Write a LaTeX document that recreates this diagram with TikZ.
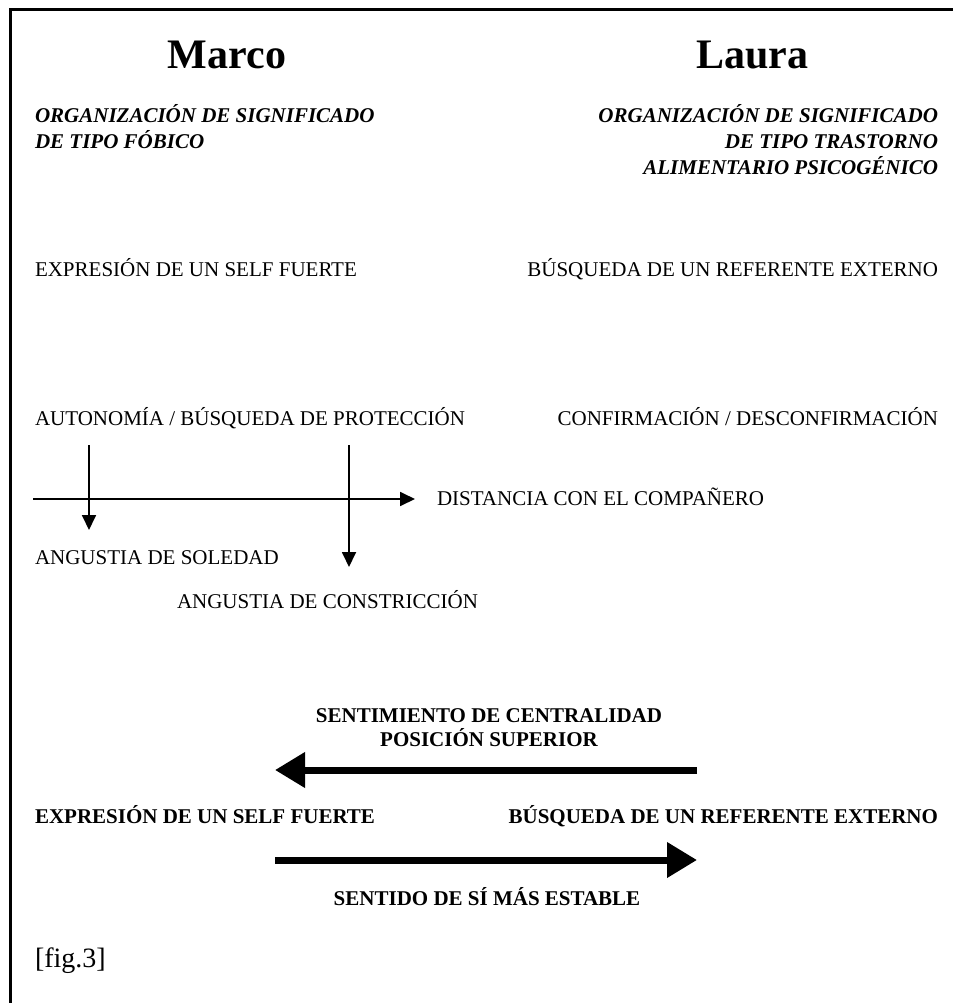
\documentclass[tikz,border=0pt]{standalone}
\usepackage{fontspec}
\setmainfont{Liberation Serif}
\usetikzlibrary{arrows.meta}
\tikzset{
  every node/.style={inner sep=0pt, outer sep=0pt},
  title/.style={font=\bfseries\fontsize{42}{46}\selectfont},
  orgtext/.style={font=\bfseries\itshape\fontsize{21}{26}\selectfont},
  plain/.style={font=\fontsize{21}{26}\selectfont},
  boldtext/.style={font=\bfseries\fontsize{21}{26}\selectfont},
  figlabel/.style={font=\fontsize{28}{32}\selectfont},
  thinarrow/.style={line width=1.8pt, -{Triangle[length=15pt,width=14pt]}},
  thickarrow/.style={line width=7pt, -{Triangle[length=30pt,width=34pt]}},
  frame/.style={line width=3pt}
}
\begin{document}
\begin{tikzpicture}[x=1pt,y=-1pt]
\useasboundingbox (0,0) rectangle (953,1003);
% frame
\coordinate (fr1) at (10,1003);
\coordinate (fr2) at (10,10);
\coordinate (fr3) at (953,10);
\draw[frame] (fr1) -- (fr2) -- (fr3);
% titles
\node[title, anchor=base] (marco) at (227,69) {Marco};
\node[title, anchor=base] (laura) at (752,69) {Laura};
% organisations
\node[orgtext, anchor=base west] (orgL1) at (35,123) {ORGANIZACIÓN DE SIGNIFICADO};
\node[orgtext, anchor=base west] (orgL2) at (35,149) {DE TIPO FÓBICO};
\node[orgtext, anchor=base east] (orgR1) at (938,123) {ORGANIZACIÓN DE SIGNIFICADO};
\node[orgtext, anchor=base east] (orgR2) at (938,149) {DE TIPO TRASTORNO};
\node[orgtext, anchor=base east] (orgR3) at (938,175) {ALIMENTARIO PSICOGÉNICO};
% row 1
\node[plain, anchor=base west] (exprL) at (35,276) {EXPRESIÓN DE UN SELF FUERTE};
\node[plain, anchor=base east] (busqR) at (938,276) {BÚSQUEDA DE UN REFERENTE EXTERNO};
% row 2
\node[plain, anchor=base west] (auto) at (35,425) {AUTONOMÍA / BÚSQUEDA DE PROTECCIÓN};
\node[plain, anchor=base east] (conf) at (938,425) {CONFIRMACIÓN / DESCONFIRMACIÓN};
% axis
\coordinate (axS) at (33,499);
\coordinate (axE) at (415,499);
\node[plain, anchor=base west] (dist) at (437,505) {DISTANCIA CON EL COMPAÑERO};
\draw[thinarrow] (axS) -- (axE);
\coordinate (v1S) at (89,445);
\coordinate (v1E) at (89,530);
\coordinate (v2S) at (349,445);
\coordinate (v2E) at (349,567);
\draw[thinarrow] (v1S) -- (v1E);
\draw[thinarrow] (v2S) -- (v2E);
\node[plain, anchor=base west] (sol) at (35,564) {ANGUSTIA DE SOLEDAD};
\node[plain, anchor=base west] (cons) at (177,608) {ANGUSTIA DE CONSTRICCIÓN};
% bottom
\node[boldtext, anchor=base] (sent1) at (489,722) {SENTIMIENTO DE CENTRALIDAD};
\node[boldtext, anchor=base] (sent2) at (489,746) {POSICIÓN SUPERIOR};
\coordinate (tA) at (697,770);
\coordinate (tB) at (275,770);
\draw[thickarrow] (tA) -- (tB);
\node[boldtext, anchor=base west] (exprB) at (35,823) {EXPRESIÓN DE UN SELF FUERTE};
\node[boldtext, anchor=base east] (busqB) at (938,823) {BÚSQUEDA DE UN REFERENTE EXTERNO};
\coordinate (bA) at (275,860);
\coordinate (bB) at (697,860);
\draw[thickarrow] (bA) -- (bB);
\node[boldtext, anchor=base] (sentido) at (487,905) {SENTIDO DE SÍ MÁS ESTABLE};
\node[figlabel, anchor=base west] (fig) at (35,967) {[fig.3]};
\end{tikzpicture}
\end{document}
